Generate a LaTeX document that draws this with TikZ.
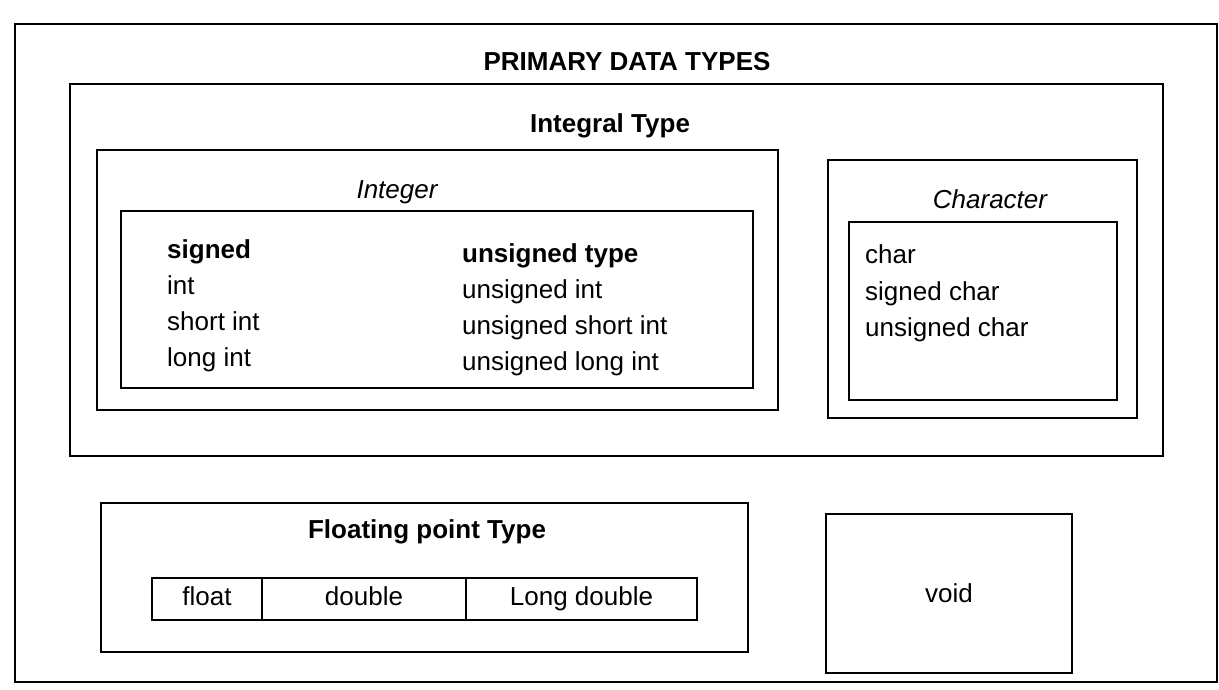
\documentclass[tikz,border=0pt]{standalone}
\usepackage{fontspec}
\setmainfont{Liberation Sans}
\usepackage{tikz}

\tikzset{
	panel/.style={shape=rectangle, draw=black, line width=1.6pt, inner sep=0pt},
	txt/.style={inner sep=0pt, font=\fontsize{26}{30}\selectfont},
	cell/.style={panel, txt, text height=19pt, text depth=6pt, minimum height=42},
	item/.style={txt, anchor=base west},
	title/.style={txt, anchor=base, font=\fontsize{26}{30}\selectfont\bfseries},
}

\begin{document}
\begin{tikzpicture}[x=1pt, y=-1pt]
	
	\useasboundingbox (0,0) rectangle (1219,689);
	
	% frames
	\node[panel, minimum width=1202, minimum height=658] (outer) at (616, 353) {};
	\node[panel, minimum width=1093, minimum height=372] (integral) at (616.5, 270) {};
	\node[panel, minimum width=681, minimum height=260] (integer) at (437.5, 280) {};
	\node[panel, minimum width=632, minimum height=177] (intlist) at (437, 299.5) {};
	\node[panel, minimum width=309, minimum height=258] (character) at (982.5, 289) {};
	\node[panel, minimum width=268, minimum height=178] (charlist) at (983, 311) {};
	\node[panel, minimum width=647, minimum height=149] (floating) at (424.5, 577.5) {};
	\node[panel, txt, minimum width=246, minimum height=159] (void) at (949, 593.5) {void};
	
	% titles
	\node[title] (primary) at (627, 70) {PRIMARY DATA TYPES};
	\node[title] (integraltitle) at (610, 132) {Integral Type};
	\node[txt, anchor=base, font=\fontsize{26}{30}\selectfont\itshape] (integertitle) at (397, 198) {Integer};
	\node[txt, anchor=base, font=\fontsize{26}{30}\selectfont\itshape] (chartitle) at (990, 208) {Character};
	\node[title] (floattitle) at (427, 538) {Floating point Type};
	
	% integer lists
	\node[item, font=\fontsize{26}{30}\selectfont\bfseries] (signed) at (167, 258) {signed};
	\node[item] (sint) at (167, 294) {int};
	\node[item] (sshort) at (167, 330) {short int};
	\node[item] (slong) at (167, 366) {long int};
	\node[item, font=\fontsize{26}{30}\selectfont\bfseries] (unsigned) at (462, 262) {unsigned type};
	\node[item] (uint) at (462, 298) {unsigned int};
	\node[item] (ushort) at (462, 334) {unsigned short int};
	\node[item] (ulong) at (462, 370) {unsigned long int};
	
	% character list
	\node[item] (char) at (865, 263) {char};
	\node[item] (schar) at (865, 300) {signed char};
	\node[item] (uchar) at (865, 336) {unsigned char};
	
	% floating cells
	\node[cell, minimum width=110] (float) at (207, 599) {float};
	\node[cell, minimum width=204] (double) at (364, 599) {double};
	\node[cell, minimum width=231] (longdouble) at (581.5, 599) {Long double};

\end{tikzpicture}
\end{document}
